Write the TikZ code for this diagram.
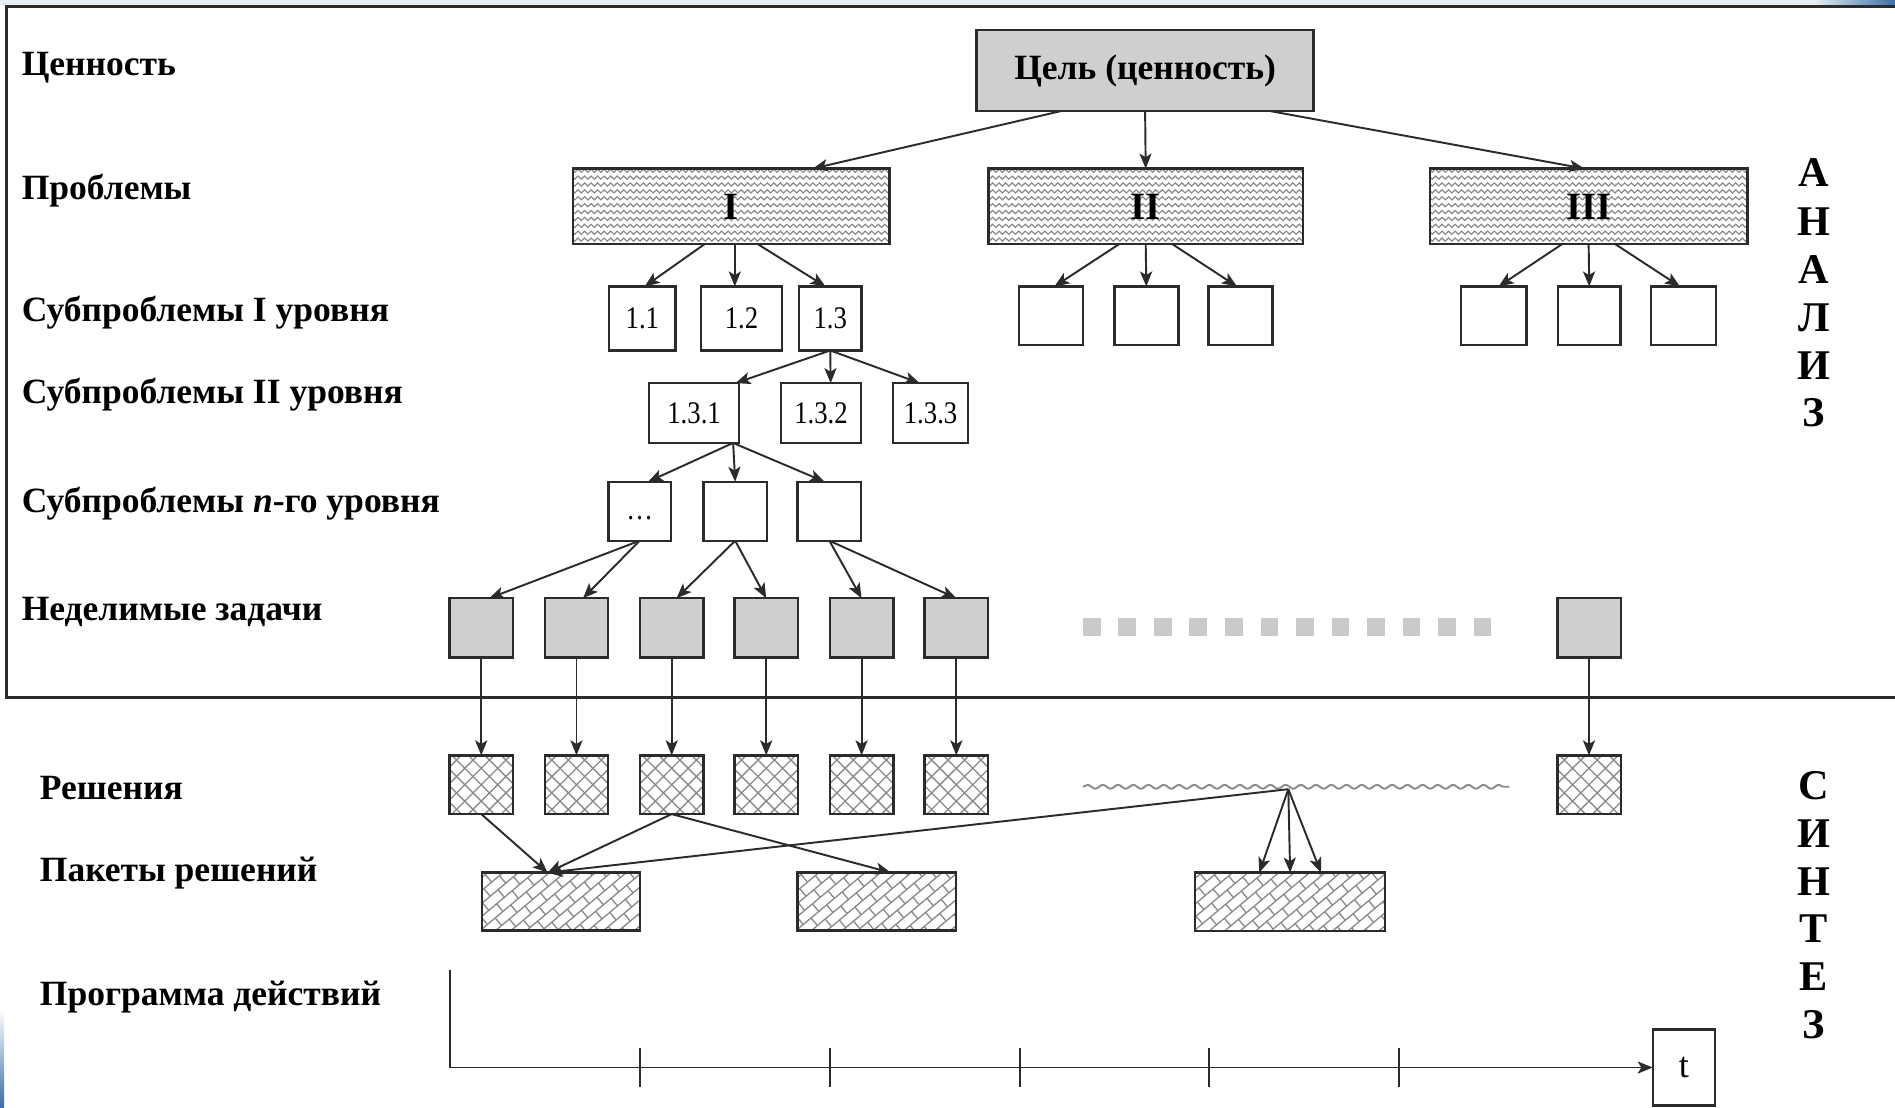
\documentclass[tikz,border=0pt]{standalone}
\usepackage{fontspec}
\setmainfont{Liberation Serif}
\newfontfamily\numfont{Liberation Serif}[FakeStretch=0.85]
\usetikzlibrary{arrows.meta,decorations.pathmorphing,backgrounds}
\definecolor{lc}{HTML}{2B2B2B}
\definecolor{gfill}{HTML}{CFCFD2}
\definecolor{patcol}{HTML}{8A8A8A}
\definecolor{dotcol}{HTML}{CACACA}
\definecolor{topc}{HTML}{E9EEF4}
\definecolor{blueedge}{HTML}{3A6FA6}
\newcommand\wavyfill[1]{\begin{scope}[on background layer]\begin{scope}
  \clip (#1.south west) rectangle (#1.north east);
  \begin{scope}[shift={(#1.center)},x=1pt,y=1pt]
  \foreach \k in {-6,...,6}{\draw[patcol,line width=0.5pt,decorate,decoration={snake,amplitude=0.65pt,segment length=2.7pt}] (-75,\k*2.85+0.5) -- (75,\k*2.85+0.5);}
  \end{scope}\end{scope}\end{scope}}
\newcommand\crossfill[1]{\begin{scope}[on background layer]\begin{scope}
  \clip (#1.south west) rectangle (#1.north east);
  \begin{scope}[shift={(#1.center)},x=1pt,y=1pt]
  \foreach \i in {-7,...,7}{\draw[patcol,line width=0.55pt] (\i*6.8-20,-20) -- ++(40,40); \draw[patcol,line width=0.55pt] (\i*6.8+20,-20) -- ++(-40,40);}
  \end{scope}\end{scope}\end{scope}}
\newcommand\brickfill[1]{\begin{scope}[on background layer]\begin{scope}
  \clip (#1.south west) rectangle (#1.north east);
  \begin{scope}[shift={(#1.center)},x=1pt,y=1pt,rotate=40]
  \foreach \r in {-12,...,12}{
    \draw[patcol,line width=0.55pt] (-50,\r*4.1) -- (50,\r*4.1);
    \pgfmathsetmacro\off{mod(\r+100,2)*4.2}
    \foreach \c in {-7,...,7}{\draw[patcol,line width=0.55pt] (\c*8.4+\off,\r*4.1) -- ++(0,4.1);}
  }
  \end{scope}\end{scope}\end{scope}}
\begin{document}
\begin{tikzpicture}[x=0.5pt,y=-0.5pt,
  every node/.style={inner sep=0pt,outer sep=0pt},
  bx/.style={draw=lc,line width=1pt,rectangle},
  sz/.style 2 args={minimum width=#1*0.5pt,minimum height=#2*0.5pt},
  arr/.style={draw=lc,line width=0.8pt,-{Stealth[length=6.2pt,width=5pt,inset=1.5pt]}},
  plain/.style={draw=lc,line width=0.85pt},
  lbl/.style={anchor=west,font=\bfseries\fontsize{14.7}{17}\selectfont,text height=9.7pt,text depth=0pt},
  vl/.style={font=\bfseries\fontsize{17.5}{19}\selectfont,text height=11.6pt,text depth=0pt},
  num/.style={font=\numfont\fontsize{13}{15}\selectfont},
  roman/.style={font=\bfseries\fontsize{16}{18}\selectfont}
]
% background and page edges
\begin{scope}[on background layer]
\fill[white] (0,0) rectangle (1568,916);
\end{scope}
\useasboundingbox (0,0) rectangle (1568,916);
\fill[topc] (0,0) rectangle (1568,4.3);
\shade[left color=topc,right color=blueedge] (1500,0) rectangle (1568,4.3);
\shade[top color=white,bottom color=blueedge] (0,835) rectangle (3.5,916);
% analysis frame
\draw[lc,line width=1.2pt] (1568,5.6) -- (5.6,5.6) -- (5.6,577) -- (1568,577);

% left labels
\node[lbl] (lv) at (18,53) {Ценность};
\node[lbl] (lp) at (18,155) {Проблемы};
\node[lbl] (ls1) at (18,256) {Субпроблемы I уровня};
\node[lbl] (ls2) at (18,324) {Субпроблемы II уровня};
\node[lbl] (lsn) at (18,414) {Субпроблемы \textit{n}-го уровня};
\node[lbl] (lt) at (18,504) {Неделимые задачи};
\node[lbl] (lr) at (33,652) {Решения};
\node[lbl] (lpk) at (33,720) {Пакеты решений};
\node[lbl] (lpr) at (33,822) {Программа действий};

% right vertical words
\foreach \ch/\yy [count=\n] in {А/143,Н/183,А/223,Л/262.5,И/302,З/341.5}
  \node[vl] (an\n) at (1501,\yy) {\ch};
\foreach \ch/\yy [count=\n] in {С/650,И/689.5,Н/729,Т/768.5,Е/808,З/847.5}
  \node[vl] (sy\n) at (1501,\yy) {\ch};

% goal
\node[bx,fill=gfill,sz={279}{67},font=\bfseries\fontsize{14.7}{17}\selectfont] (goal) at (947.5,58.5) {Цель (ценность)};

% problems
\node[bx,sz={262}{62.5},roman] (pI) at (605,170.75) {I};
\node[bx,sz={260}{62.5},roman] (pII) at (948,170.75) {II};
\node[bx,sz={263}{62.5},roman] (pIII) at (1314.5,170.75) {III};
\wavyfill{pI}\wavyfill{pII}\wavyfill{pIII}

% subproblems level I
\node[bx,sz={55}{53},num] (s11) at (531.5,263.5) {1.1};
\node[bx,sz={67}{53},num] (s12) at (613.5,263.5) {1.2};
\node[bx,sz={52}{53},num] (s13) at (687,263.5) {1.3};
\node[bx,sz={53}{48.5}] (s21) at (869.5,261.25) {};
\node[bx,sz={53}{48.5}] (s22) at (948.5,261.25) {};
\node[bx,sz={53}{48.5}] (s23) at (1026.5,261.25) {};
\node[bx,sz={54}{48.5}] (s31) at (1236,261.25) {};
\node[bx,sz={52}{48.5}] (s32) at (1315,261.25) {};
\node[bx,sz={54}{48.5}] (s33) at (1393,261.25) {};

% subproblems level II
\node[bx,sz={74.6}{49.5},num] (s131) at (574.3,341.75) {1.3.1};
\node[bx,sz={66.6}{49.5},num] (s132) at (679.3,341.75) {1.3.2};
\node[bx,sz={62}{49.5},num] (s133) at (770,341.75) {1.3.3};

% subproblems level n
\node[bx,sz={51.5}{48.8},num,text height=7pt,text depth=0pt] (n1) at (529.25,423) {\ldots};
\node[bx,sz={52.7}{48.8}] (n2) at (608.35,423) {};
\node[bx,sz={52.5}{48.8}] (n3) at (686.25,423) {};

% indivisible tasks
\foreach \xx [count=\n] in {398.2,477,555.8,634,712.9,791.3}
  \node[bx,fill=gfill,sz={52.5}{49}] (t\n) at (\xx,519.5) {};
\node[bx,fill=gfill,sz={52.5}{49}] (t7) at (1314.8,519.5) {};
\foreach \i in {0,...,11}
  \fill[dotcol] (896+\i*29.4,511.5) rectangle ++(14.6,14.6);

% solutions
\foreach \xx [count=\n] in {398.2,477,555.8,634,712.9,791.3}
  \node[bx,sz={52.5}{48.6}] (r\n) at (\xx,649.3) {};
\node[bx,sz={52.5}{48.6}] (r7) at (1314.8,649.3) {};
\foreach \n in {1,...,7}{\crossfill{r\n}}
\coordinate (wvl) at (896,651);
\coordinate (wvr) at (1249,651);
\coordinate (wv) at (1066,653);
\draw[patcol,line width=0.8pt,decorate,decoration={snake,amplitude=0.8pt,segment length=6.3pt}] (wvl) -- (wvr);

% packages
\node[bx,sz={131}{48}] (P1) at (464.15,746) {};
\node[bx,sz={131}{48}] (P2) at (725.5,746) {};
\node[bx,sz={157}{48.5}] (P3) at (1067.5,746.25) {};
\brickfill{P1}\brickfill{P2}\brickfill{P3}

% program / timeline
\node[bx,sz={51.5}{63},font=\fontsize{15}{17}\selectfont] (tbox) at (1393.25,883.3) {t};
\coordinate (tl0) at (372.4,803);
\coordinate (tl1) at (372.4,883.3);
\draw[arr] (tl0) -- (tl1) -- (tbox.west);
\foreach \xx in {529.6,686.7,843.7,1000.5,1157.7}
  \draw[plain] (\xx,867) -- (\xx,899);

% connectors: goal -> problems
\draw[arr] ([xshift=-35pt]goal.south) -- ([xshift=33.75pt]pI.north);
\draw[arr] (goal.south) -- (pII.north);
\draw[arr] ([xshift=52pt]goal.south) -- ([xshift=-1.75pt]pIII.north);

% problems -> subproblems level I
\draw[arr] ([xshift=-11pt]pI.south) -- ([xshift=1pt]s11.north);
\draw[arr] ([xshift=1.5pt]pI.south) -- ([xshift=1.5pt]pI.south |- s12.north);
\draw[arr] ([xshift=11pt]pI.south) -- ([xshift=-2pt]s13.north);
\draw[arr] ([xshift=-11pt]pII.south) -- ([xshift=1.5pt]s21.north);
\draw[arr] (pII.south) -- (s22.north);
\draw[arr] ([xshift=11pt]pII.south) -- ([xshift=-1.5pt]s23.north);
\draw[arr] ([xshift=-11pt]pIII.south) -- ([xshift=2pt]s31.north);
\draw[arr] (pIII.south) -- (s32.north);
\draw[arr] ([xshift=11pt]pIII.south) -- ([xshift=-1.5pt]s33.north);

% 1.3 -> level II
\draw[arr] (s13.south) -- ([xshift=-1.5pt]s131.north east);
\draw[arr] (s13.south) -- ([xshift=4pt]s132.north);
\draw[arr] (s13.south) -- ([xshift=-4.5pt]s133.north);

% 1.3.1 -> level n
\draw[arr] ([xshift=-2.5pt]s131.south east) -- ([xshift=3.5pt]n1.north);
\draw[arr] ([xshift=-2.5pt]s131.south east) -- (n2.north);
\draw[arr] ([xshift=-2.5pt]s131.south east) -- ([xshift=-2pt]n3.north);

% level n -> tasks
\draw[arr] (n1.south) -- ([xshift=3.3pt]t1.north);
\draw[arr] (n1.south) -- ([xshift=2.7pt]t2.north);
\draw[arr] (n2.south) -- ([xshift=2pt]t3.north);
\draw[arr] (n2.south) -- (t4.north);
\draw[arr] (n3.south) -- (t5.north);
\draw[arr] (n3.south) -- (t6.north);

% tasks -> solutions
\foreach \n in {1,...,7}
  \draw[arr] (t\n.south) -- (r\n.north);

% solutions -> packages
\coordinate (p1in) at ([xshift=-5.5pt]P1.north);
\draw[arr] (r1.south) -- (p1in);
\draw[arr] (r3.south) -- (p1in);
\draw[arr] (r3.south) -- ([xshift=5.75pt]P2.north);
\draw[arr] (wv) -- (p1in);
\draw[arr] (wv) -- ([xshift=-12.75pt]P3.north);
\draw[arr] (wv) -- (P3.north);
\draw[arr] (wv) -- ([xshift=12.75pt]P3.north);
\end{tikzpicture}
\end{document}
